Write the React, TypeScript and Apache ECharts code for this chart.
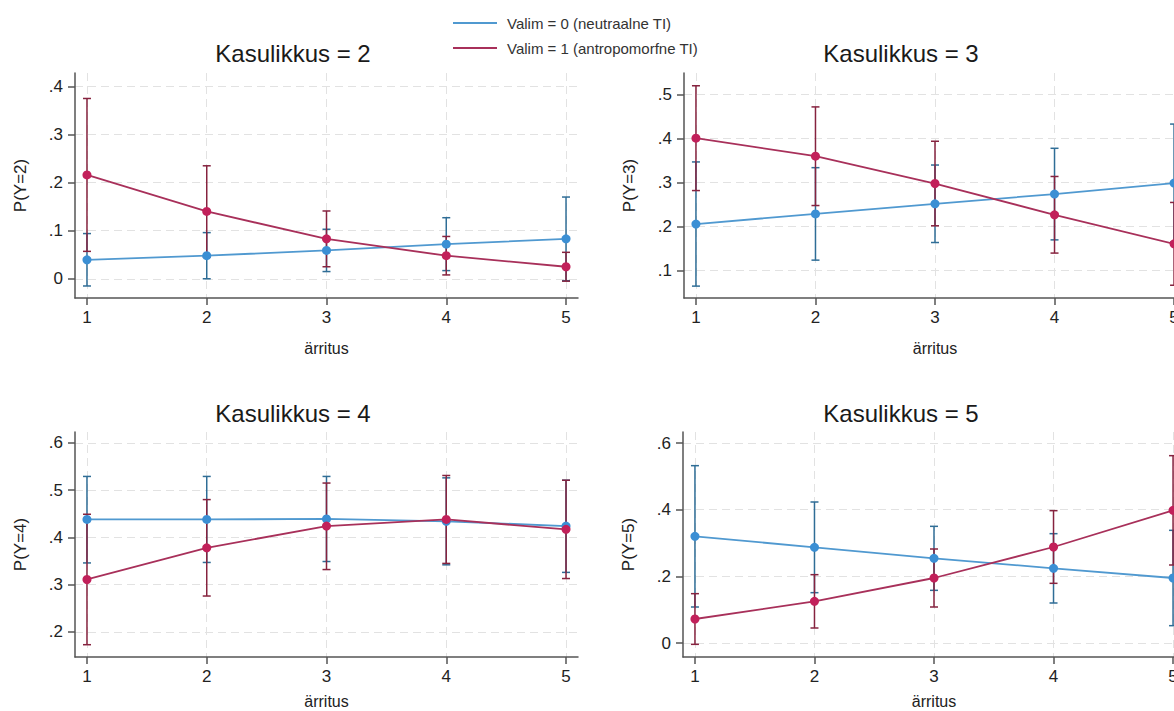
import React, { useEffect, useRef } from "react";
import * as echarts from "echarts";

const X_VALUES = [1, 2, 3, 4, 5];
const SERIES_NAMES = ["Valim = 0 (neutraalne TI)", "Valim = 1 (antropomorfne TI)"];
const PANEL_TITLES = ["Kasulikkus = 2", "Kasulikkus = 3", "Kasulikkus = 4", "Kasulikkus = 5"];
const Y_TITLES = ["P(Y=2)", "P(Y=3)", "P(Y=4)", "P(Y=5)"];
const X_TITLE = "ärritus";
const Y_TICKS = [
  [0, 0.1, 0.2, 0.3, 0.4],
  [0.1, 0.2, 0.3, 0.4, 0.5],
  [0.2, 0.3, 0.4, 0.5, 0.6],
  [0, 0.2, 0.4, 0.6],
];

// Panel "Kasulikkus = 2"
const p2Blue = [0.0395, 0.048, 0.059, 0.072, 0.083];
const p2BlueLo = [-0.015, 0.0, 0.015, 0.017, -0.004];
const p2BlueHi = [0.094, 0.096, 0.103, 0.127, 0.17];
const p2Red = [0.216, 0.14, 0.083, 0.048, 0.025];
const p2RedLo = [0.057, 0.045, 0.025, 0.008, -0.005];
const p2RedHi = [0.375, 0.235, 0.141, 0.088, 0.055];

// Panel "Kasulikkus = 3"
const p3Blue = [0.206, 0.229, 0.252, 0.274, 0.299];
const p3BlueLo = [0.065, 0.124, 0.164, 0.17, 0.165];
const p3BlueHi = [0.347, 0.334, 0.34, 0.378, 0.433];
const p3Red = [0.401, 0.36, 0.298, 0.227, 0.161];
const p3RedLo = [0.282, 0.248, 0.202, 0.14, 0.067];
const p3RedHi = [0.52, 0.472, 0.394, 0.314, 0.255];

// Panel "Kasulikkus = 4"
const p4Blue = [0.438, 0.438, 0.439, 0.434, 0.424];
const p4BlueLo = [0.346, 0.347, 0.349, 0.342, 0.326];
const p4BlueHi = [0.529, 0.529, 0.529, 0.526, 0.521];
const p4Red = [0.311, 0.378, 0.424, 0.438, 0.417];
const p4RedLo = [0.173, 0.276, 0.332, 0.345, 0.313];
const p4RedHi = [0.449, 0.48, 0.515, 0.531, 0.521];

// Panel "Kasulikkus = 5"
const p5Blue = [0.32, 0.287, 0.254, 0.224, 0.195];
const p5BlueLo = [0.108, 0.151, 0.158, 0.12, 0.052];
const p5BlueHi = [0.532, 0.423, 0.35, 0.328, 0.338];
const p5Red = [0.072, 0.125, 0.195, 0.288, 0.398];
const p5RedLo = [-0.004, 0.045, 0.108, 0.179, 0.234];
const p5RedHi = [0.148, 0.205, 0.282, 0.397, 0.562];

const PANELS = [
  { blue: p2Blue, blueLo: p2BlueLo, blueHi: p2BlueHi, red: p2Red, redLo: p2RedLo, redHi: p2RedHi },
  { blue: p3Blue, blueLo: p3BlueLo, blueHi: p3BlueHi, red: p3Red, redLo: p3RedLo, redHi: p3RedHi },
  { blue: p4Blue, blueLo: p4BlueLo, blueHi: p4BlueHi, red: p4Red, redLo: p4RedLo, redHi: p4RedHi },
  { blue: p5Blue, blueLo: p5BlueLo, blueHi: p5BlueHi, red: p5Red, redLo: p5RedLo, redHi: p5RedHi },
];

const FONT = "'Liberation Sans', Arial, Helvetica, sans-serif";
const BLUE = "#3b8fd4";
const BLUE_LINE = "#5099d0";
const BLUE_ERR = "#2f6d96";
const RED = "#c2205a";
const RED_LINE = "#a8305a";
const RED_ERR = "#86233f";

const GRIDS = [
  { left: 75, top: 73, width: 503, height: 225 },
  { left: 684, top: 73, width: 502, height: 225 },
  { left: 75, top: 432, width: 503, height: 225 },
  { left: 683, top: 432, width: 502, height: 225 },
];
const Y_RANGES = [
  [-0.04, 0.428],
  [0.038, 0.549],
  [0.147, 0.623],
  [-0.042, 0.633],
];
const X_NAME_GAPS = [42, 42, 36, 36];
const TITLE_POS = [
  [293, 53],
  [901, 53],
  [293, 413],
  [901, 413],
];

const fmtTick = (v: number) => {
  const r = Math.round(v * 10) / 10;
  if (r === 0) return "0";
  return r.toFixed(1).replace(/^0/, "").replace(/^-0/, "-");
};

const errRender = (color: string) => (params: any, api: any) => {
  const x = api.value(0);
  const lo = api.value(1);
  const hi = api.value(2);
  const a = api.coord([x, lo]);
  const b = api.coord([x, hi]);
  const style = { stroke: color, lineWidth: 1.5 };
  return {
    type: "group",
    children: [
      { type: "line", shape: { x1: a[0], y1: a[1], x2: b[0], y2: b[1] }, style },
      { type: "line", shape: { x1: a[0] - 4, y1: a[1], x2: a[0] + 4, y2: a[1] }, style },
      { type: "line", shape: { x1: b[0] - 4, y1: b[1], x2: b[0] + 4, y2: b[1] }, style },
    ],
  };
};

export default function App() {
  const ref = useRef<HTMLDivElement>(null);

  useEffect(() => {
    if (!ref.current) return;
    const chart = echarts.init(ref.current, null, { renderer: "svg" });

    const axisLineStyle = { color: "#555", width: 1.5 };
    const splitLine = { show: true, lineStyle: { color: "#e2e2e2", width: 1, type: [8, 5] as any } };

    const xAxis = GRIDS.map((_, i) => ({
      type: "value",
      gridIndex: i,
      min: 0.9,
      max: 5.1,
      name: X_TITLE,
      nameLocation: "middle",
      nameGap: X_NAME_GAPS[i],
      nameTextStyle: { fontFamily: FONT, fontSize: 16, color: "#222" },
      axisLine: { show: true, onZero: false, lineStyle: axisLineStyle },
      axisTick: { show: true, length: 7, lineStyle: axisLineStyle, customValues: X_VALUES },
      axisLabel: {
        show: true,
        margin: 11,
        fontFamily: FONT,
        fontSize: 17,
        color: "#222",
        customValues: X_VALUES,
        formatter: (v: number) => String(v),
      },
      splitLine: { ...splitLine, customValues: X_VALUES },
    }));

    const yAxis = GRIDS.map((_, i) => ({
      type: "value",
      gridIndex: i,
      min: Y_RANGES[i][0],
      max: Y_RANGES[i][1],
      name: Y_TITLES[i],
      nameLocation: "middle",
      nameRotate: 90,
      nameGap: 46,
      nameTextStyle: { fontFamily: FONT, fontSize: 17, color: "#222" },
      axisLine: { show: true, onZero: false, lineStyle: axisLineStyle },
      axisTick: { show: true, length: 7, lineStyle: axisLineStyle, customValues: Y_TICKS[i] },
      axisLabel: {
        show: true,
        margin: 12,
        fontFamily: FONT,
        fontSize: 17,
        color: "#222",
        customValues: Y_TICKS[i],
        formatter: (v: number) => fmtTick(v),
      },
      splitLine: { ...splitLine, customValues: Y_TICKS[i] },
    }));

    const series: any[] = [];
    PANELS.forEach((p, i) => {
      const groups = [
        { name: SERIES_NAMES[0], mean: p.blue, lo: p.blueLo, hi: p.blueHi, c: BLUE, lc: BLUE_LINE, ec: BLUE_ERR },
        { name: SERIES_NAMES[1], mean: p.red, lo: p.redLo, hi: p.redHi, c: RED, lc: RED_LINE, ec: RED_ERR },
      ];
      groups.forEach((g) => {
        series.push({
          type: "custom",
          name: g.name,
          xAxisIndex: i,
          yAxisIndex: i,
          coordinateSystem: "cartesian2d",
          renderItem: errRender(g.ec),
          encode: { x: 0, y: [1, 2] },
          data: X_VALUES.map((x, k) => [x, g.lo[k], g.hi[k]]),
          z: 2,
          silent: true,
        });
      });
      groups.forEach((g) => {
        series.push({
          type: "line",
          name: g.name,
          xAxisIndex: i,
          yAxisIndex: i,
          data: X_VALUES.map((x, k) => [x, g.mean[k]]),
          symbol: "circle",
          symbolSize: 9,
          showSymbol: true,
          itemStyle: { color: g.c },
          lineStyle: { color: g.lc, width: 1.8 },
          z: 3,
        });
      });
    });

    const option: any = {
      animation: false,
      backgroundColor: "#ffffff",
      grid: GRIDS.map((g) => ({ ...g, containLabel: false, outerBoundsMode: "none" })),
      xAxis,
      yAxis,
      legend: {
        orient: "vertical",
        left: 453,
        top: 14,
        padding: 0,
        itemWidth: 44,
        itemHeight: 2,
        itemGap: 7,
        icon: "rect",
        textStyle: { fontFamily: FONT, fontSize: 15, color: "#333", lineHeight: 18, padding: [0, 0, 0, 5] },
        data: [
          { name: SERIES_NAMES[0], itemStyle: { color: BLUE_LINE } },
          { name: SERIES_NAMES[1], itemStyle: { color: RED_LINE } },
        ],
      },
      graphic: PANEL_TITLES.map((t, i) => ({
        type: "text",
        x: TITLE_POS[i][0],
        y: TITLE_POS[i][1],
        style: {
          text: t,
          fill: "#1a1a1a",
          font: `24px ${FONT}`,
          align: "center",
          verticalAlign: "middle",
        },
      })),
      series,
    };

    chart.setOption(option);
    return () => chart.dispose();
  }, []);

  return (
    <div
      ref={ref}
      style={{ position: "absolute", left: 0, top: 0, width: 1174, height: 711, overflow: "hidden" }}
    />
  );
}
